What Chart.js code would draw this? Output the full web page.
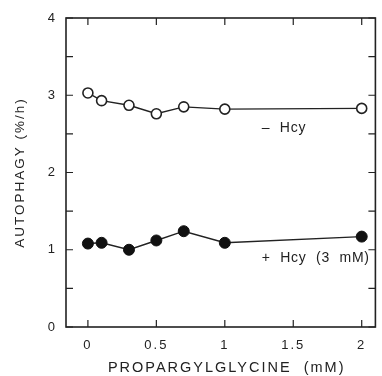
<!DOCTYPE html>
<html>
<head>
<meta charset="utf-8">
<script src="https://cdn.jsdelivr.net/npm/chart.js@4/dist/chart.umd.min.js"></script>
<style>
  html, body { margin: 0; padding: 0; background: #fff; }
  #wrap { width: 382px; height: 376px; }
</style>
</head>
<body>
<div id="wrap"><canvas id="grafico" width="382" height="376"></canvas></div>
<script>
const doses = [0, 0.1, 0.3, 0.5, 0.7, 1, 2];
const semHcy = [3.03, 2.93, 2.87, 2.76, 2.85, 2.82, 2.83];
const comHcy = [1.08, 1.09, 1.0, 1.12, 1.24, 1.09, 1.17];
const xTicks = [0, 0.5, 1, 1.5, 2];
const yTicks = [0, 1, 2, 3, 4];
const tituloX = 'PROPARGYLGLYCINE  (mM)';
const rotulos = [
    { texto: '\u2013  Hcy', x: 1.27, y: 2.58 },
    { texto: '+  Hcy  (3  mM)', x: 1.27, y: 0.89 }
];

const fonte = '"Liberation Sans", Arial, sans-serif';
const espaco = '2px';

function pontos(valores) {
    return doses.map((d, i) => ({ x: d, y: valores[i] }));
}

// letras espaçadas como no original
const espacamento = {
    id: 'espacamento',
    beforeUpdate(chart) { chart.ctx.letterSpacing = espaco; },
    beforeDraw(chart) { chart.ctx.letterSpacing = espaco; }
};

// moldura com marcas de escala para dentro, titulo do eixo x e textos das curvas
const moldura = {
    id: 'moldura',
    afterDatasetsDraw(chart) {
        const { ctx, chartArea: a, scales: { x, y } } = chart;
        ctx.save();
        ctx.strokeStyle = '#222';
        ctx.lineWidth = 1.6;
        ctx.strokeRect(a.left, a.top, a.right - a.left, a.bottom - a.top);
        ctx.lineWidth = 1.2;
        ctx.beginPath();
        xTicks.forEach(v => {
            const px = x.getPixelForValue(v);
            ctx.moveTo(px, a.bottom); ctx.lineTo(px, a.bottom - 7);
            ctx.moveTo(px, a.top); ctx.lineTo(px, a.top + 7);
        });
        for (let v = 0; v <= 4; v += 0.5) {
            const py = y.getPixelForValue(v);
            ctx.moveTo(a.left, py); ctx.lineTo(a.left + 7, py);
            ctx.moveTo(a.right, py); ctx.lineTo(a.right - 7, py);
        }
        ctx.stroke();

        ctx.fillStyle = '#222';
        ctx.textBaseline = 'middle';
        ctx.textAlign = 'center';
        ctx.font = '14.5px ' + fonte;
        ctx.letterSpacing = '2px';
        ctx.fillText(tituloX, (a.left + a.right) / 2 + 6, 368);

        ctx.font = '14px ' + fonte;
        ctx.letterSpacing = '0.8px';
        ctx.textAlign = 'left';
        rotulos.forEach(r => {
            ctx.fillText(r.texto, x.getPixelForValue(r.x), y.getPixelForValue(r.y));
        });
        ctx.restore();
    }
};

const ctx = document.getElementById('grafico').getContext('2d');
new Chart(ctx, {
    type: 'scatter',
    data: {
        datasets: [{
            label: '- Hcy',
            data: pontos(semHcy),
            showLine: true,
            borderColor: '#222',
            borderWidth: 1.4,
            pointRadius: 5,
            pointBorderWidth: 1.6,
            pointBackgroundColor: '#fff',
            pointBorderColor: '#222'
        }, {
            label: '+ Hcy (3 mM)',
            data: pontos(comHcy),
            showLine: true,
            borderColor: '#222',
            borderWidth: 1.4,
            pointRadius: 5.5,
            pointBorderWidth: 1,
            pointBackgroundColor: '#111',
            pointBorderColor: '#111'
        }]
    },
    options: {
        responsive: false,
        animation: false,
        layout: { padding: { top: 18, right: 1, left: 12, bottom: 0 } },
        plugins: { legend: { display: false }, tooltip: { enabled: false } },
        scales: {
            x: {
                type: 'linear',
                min: -0.16,
                max: 2.1,
                afterBuildTicks: s => { s.ticks = xTicks.map(v => ({ value: v })); },
                afterFit: s => { s.height = 49; },
                grid: { display: false },
                border: { display: false },
                ticks: {
                    color: '#222',
                    font: { family: fonte, size: 13 },
                    padding: 3,
                    maxRotation: 0,
                    callback: v => String(v)
                },
                title: { display: false }
            },
            y: {
                min: 0,
                max: 4,
                afterBuildTicks: s => { s.ticks = yTicks.map(v => ({ value: v })); },
                afterFit: s => { s.width = 54; },
                grid: { display: false },
                border: { display: false },
                ticks: {
                    color: '#222',
                    font: { family: fonte, size: 13 },
                    padding: 1
                },
                title: {
                    display: true,
                    text: 'AUTOPHAGY (%/h)',
                    color: '#222',
                    font: { family: fonte, size: 13.5 },
                    padding: { top: 0, bottom: 4 }
                }
            }
        }
    },
    plugins: [espacamento, moldura]
});
</script>
</body>
</html>
